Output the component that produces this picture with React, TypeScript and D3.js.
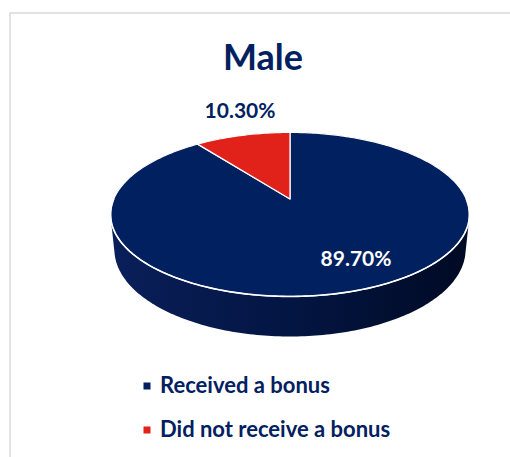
import React from "react";
import * as d3 from "d3";

const title = "Male";
const categories = ["Received a bonus", "Did not receive a bonus"];
const values = [89.7, 10.3];
const labels = ["89.70%", "10.30%"];
const colors = ["#002060", "#E0221A"];

const W = 510;
const H = 457;

// 3D projection parameters
const phi = Math.asin(0.449);
const dist = 4.75;
const focal = 837;
const depthH = 0.225;
const cx = 290;
const cy = 199;

function project(X: number, Y: number, Z: number): [number, number] {
  const s = Math.sin(phi);
  const c = Math.cos(phi);
  const depth = dist - Y * s + Z * c;
  const up = Y * c + Z * s;
  return [cx + (X * focal) / depth, cy - (up * focal) / depth];
}

function rimPoint(a: number, Y: number): [number, number] {
  return project(Math.sin(a), Y, Math.cos(a));
}

export default function App() {
  const pie = d3.pie<number>().sort(null).value((d) => d);
  const arcs = pie(values);
  const N = 360;
  const topPts: [number, number][] = d3.range(N).map((i) => rimPoint((i / N) * 2 * Math.PI, 0));
  const botPts: [number, number][] = d3.range(N).map((i) => rimPoint((i / N) * 2 * Math.PI, -depthH));
  const hull = d3.polygonHull([...topPts, ...botPts]) || [];
  const line = d3.line<[number, number]>();

  const slicePath = (a0: number, a1: number) => {
    const steps = Math.max(2, Math.ceil(((a1 - a0) / (2 * Math.PI)) * 360));
    const pts: [number, number][] = [project(0, 0, 0)];
    for (let i = 0; i <= steps; i++) pts.push(rimPoint(a0 + ((a1 - a0) * i) / steps, 0));
    return line(pts) + "Z";
  };

  const frontPts: [number, number][] = d3
    .range(0, 181)
    .map((i) => rimPoint(Math.PI / 2 + (i / 180) * Math.PI, 0));

  const labelPos: [number, number][] = [
    [356, 266],
    [240, 118],
  ];
  const labelColors = ["#FFFFFF", "#002060"];

  const font = "Lato, 'Open Sans', sans-serif";

  return (
    <svg width={W} height={H} style={{ display: "block", position: "absolute", left: 0, top: 0 }}>
      <defs>
        <linearGradient id="sideGrad" x1="0" x2="1" y1="0" y2="0">
          <stop offset="0" stopColor="#0a1f5a" />
          <stop offset="0.5" stopColor="#031542" />
          <stop offset="1" stopColor="#000a24" />
        </linearGradient>
      </defs>
      <rect x={0} y={0} width={W} height={H} fill="#ffffff" />
      <rect x={10} y={13} width={W + 20} height={H + 20} fill="none" stroke="#d9d9d9" strokeWidth={1.5} />
      <text x={263} y={70} textAnchor="middle" fontFamily={font} fontWeight={700} fontSize={36} fill="#002060">
        {title}
      </text>
      <path d={line(hull as [number, number][]) + "Z"} fill="url(#sideGrad)" />
      {arcs.map((a, i) => (
        <path key={i} d={slicePath(a.startAngle, a.endAngle)} fill={colors[i]} stroke="#ffffff" strokeWidth={1.2} strokeLinejoin="round" />
      ))}
      <path d={line(frontPts) || ""} fill="none" stroke="#ffffff" strokeWidth={1.6} />
      {arcs.map((a, i) => (
        <text
          key={"l" + i}
          x={labelPos[i][0]}
          y={labelPos[i][1]}
          textAnchor="middle"
          fontFamily={font}
          fontWeight={700}
          fontSize={21}
          fill={labelColors[i]}
        >
          {labels[i]}
        </text>
      ))}
      {categories.map((c, i) => (
        <g key={"lg" + i} transform={`translate(147, ${386 + i * 44})`}>
          <rect x={-3.5} y={-3.5} width={7} height={7} fill={colors[i]} />
          <text x={13} y={7} fontFamily={font} fontWeight={700} fontSize={22} fill="#002060">
            {c}
          </text>
        </g>
      ))}
    </svg>
  );
}
